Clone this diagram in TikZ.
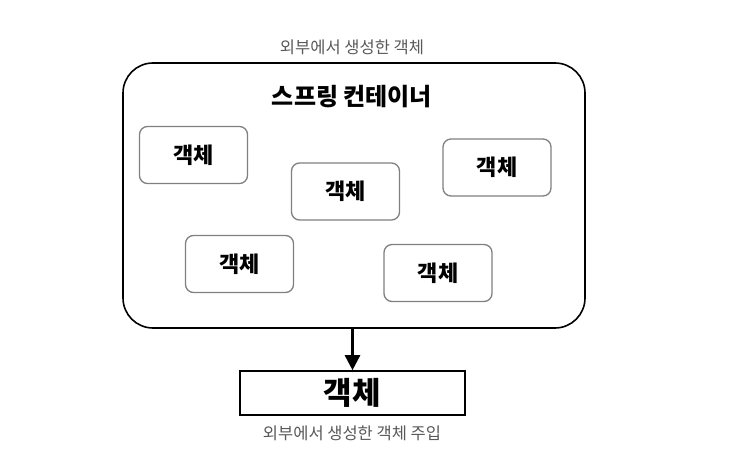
\documentclass[tikz,border=0pt]{standalone}
\usepackage{fontspec}
\setmainfont{Noto Sans CJK KR}
\usepackage{tikz}
\usetikzlibrary{arrows.meta}

\begin{document}
\begin{tikzpicture}[x=1pt,y=-1pt,
  caption/.style={text=black!65,font=\fontsize{16.5}{19}\selectfont},
  obj/.style={draw=black!50,line width=1.3pt,rounded corners=8pt,minimum width=108pt,minimum height=57pt,font=\bfseries\fontsize{22}{26}\selectfont},
  container/.style={draw,line width=1.6pt,rounded corners=30pt,minimum width=462pt,minimum height=265pt}]
\useasboundingbox (0,0) rectangle (755,465);
\node[caption] (top) at (352,47) {외부에서 생성한 객체};
\node[container] (spring) at (354,195.5) {};
\node[font=\bfseries\fontsize{24}{28}\selectfont] (title) at (352,97) {스프링 컨테이너};
\node[obj] (o1) at (193.5,155) {객체};
\node[obj] (o2) at (345.5,191.5) {객체};
\node[obj] (o3) at (497,167.5) {객체};
\node[obj] (o4) at (239.5,264) {객체};
\node[obj] (o5) at (438,273) {객체};
\node[draw,line width=1.6pt,minimum width=225pt,minimum height=44pt,font=\bfseries\fontsize{31}{34}\selectfont] (inj) at (352.5,393) {객체};
\node[caption] (bottom) at (352,433) {외부에서 생성한 객체 주입};
\draw[line width=2.6pt,-{Triangle[length=15pt,width=15pt]}] (spring.south -| inj.north) -- (inj.north);
\end{tikzpicture}
\end{document}
